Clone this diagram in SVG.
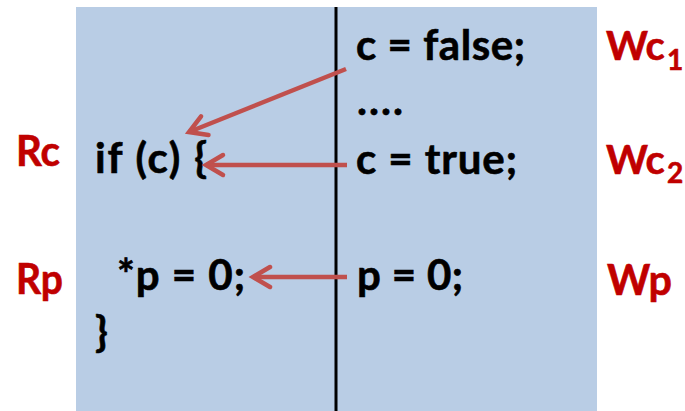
<svg xmlns="http://www.w3.org/2000/svg" width="685" height="411" viewBox="0 0 685 411">
<style>
.code{font-family:Lato,"Open Sans","Liberation Sans",sans-serif;font-weight:bold;font-size:42px;fill:#000;stroke:#000;stroke-width:0.6}
.lbl{font-family:Lato,"Open Sans","Liberation Sans",sans-serif;font-weight:bold;font-size:42px;fill:#C00000;stroke:#C00000;stroke-width:0.6}
.wc{font-size:40px}
.sub{font-size:28px}
.arr{stroke:#C0504D;stroke-width:4.5;fill:none}
</style>
<defs>
<marker id="ah" markerUnits="userSpaceOnUse" markerWidth="30" markerHeight="30" viewBox="-24 -14 30 28" refX="0" refY="0" orient="auto">
<path d="M -17 -10 L 0 0 L -17 10" fill="none" stroke="#C0504D" stroke-width="4.5" stroke-linecap="round" stroke-linejoin="miter"/>
</marker>
</defs>
<g id="panel">
<rect x="76" y="7" width="521" height="404" fill="#B9CDE5"/>
<line x1="336" y1="7" x2="336" y2="411" stroke="#000" stroke-width="3"/>
</g>
<g id="thread2">
<text class="code" x="356" y="60" textLength="169">c = false;</text>
<text class="code" x="357" y="115" textLength="46">....</text>
<text class="code" x="356" y="174" textLength="161">c = true;</text>
<text class="code" x="357" y="290" textLength="106">p = 0;</text>
</g>
<g id="thread1">
<text class="code" x="95" y="173" textLength="112">if (c) {</text>
<text class="code" x="117" y="290" textLength="128">*p = 0;</text>
<text class="code" x="95" y="347">}</text>
</g>
<g id="labels">
<text id="Rc" class="lbl" x="16" y="166" textLength="44" lengthAdjust="spacingAndGlyphs">Rc</text>
<text id="Rp" class="lbl" x="16" y="294" textLength="47" lengthAdjust="spacingAndGlyphs">Rp</text>
<text id="Wc1" class="lbl wc" x="606" y="60">Wc</text>
<text class="lbl sub" x="667" y="70">1</text>
<text id="Wc2" class="lbl wc" x="606" y="174">Wc</text>
<text class="lbl sub" x="667" y="183">2</text>
<text id="Wp" class="lbl" x="607" y="295" textLength="65" lengthAdjust="spacingAndGlyphs">Wp</text>
</g>
<g id="connectors">
<line class="arr" x1="346" y1="69" x2="189" y2="132" marker-end="url(#ah)"/>
<line class="arr" x1="347" y1="165" x2="206" y2="165" marker-end="url(#ah)"/>
<line class="arr" x1="347" y1="277" x2="253" y2="277" marker-end="url(#ah)"/>
</g>
</svg>
